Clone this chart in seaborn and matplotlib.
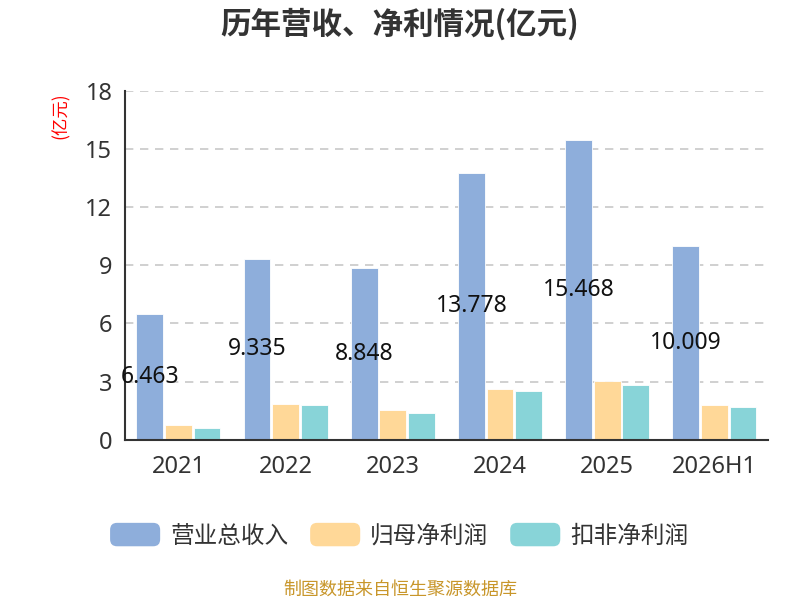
import pandas as pd
import matplotlib
matplotlib.use('Agg')
import matplotlib.pyplot as plt
from matplotlib.patches import FancyBboxPatch, Patch
from matplotlib.legend_handler import HandlerPatch
import seaborn as sns

years = ['2021', '2022', '2023', '2024', '2025', '2026H1']
series = ['营业总收入', '归母净利润', '扣非净利润']
revenue = [6.463, 9.335, 8.848, 13.778, 15.468, 10.009]
net_profit = [0.74, 1.82, 1.56, 2.63, 3.01, 1.79]
net_profit_adj = [0.62, 1.79, 1.39, 2.53, 2.84, 1.67]
colors = ['#8eaedb', '#ffd898', '#88d4d8']

sns.set_style('white')
plt.rcParams['font.family'] = ['Noto Sans', 'Noto Sans CJK SC', 'DejaVu Sans']
plt.rcParams['axes.unicode_minus'] = False
cjk = ['Noto Sans CJK SC', 'DejaVu Sans']

df = pd.DataFrame({
    'year': years * 3,
    'kind': [series[0]] * 6 + [series[1]] * 6 + [series[2]] * 6,
    'value': revenue + net_profit + net_profit_adj,
})

fig = plt.figure(figsize=(8, 6), dpi=100)
ax = fig.add_axes([0.156, 0.267, 0.804, 0.582])
sns.barplot(data=df, x='year', y='value', hue='kind', palette=colors,
            saturation=1, width=0.8, gap=0.06, edgecolor='white',
            linewidth=0.6, ax=ax, legend=False)

# revenue labels sit in the middle of the blue bar
for i, v in enumerate(revenue):
    ax.text(i - 0.8 / 3, v / 2, f'{v:.3f}', ha='center', va='center',
            fontsize=16.5, color='#111111')

ax.set_ylim(0, 18)
ax.set_yticks([0, 3, 6, 9, 12, 15, 18])
ax.set_xlim(-0.5, 5.5)
ax.set_xlabel('')
ax.set_ylabel('')
ax.tick_params(axis='x', which='major', length=0, labelsize=17, colors='#333333', pad=11)
ax.set_xticks([i - 0.5 for i in range(7)], minor=True)
ax.tick_params(axis='x', which='minor', length=6, width=1.5, color='#333333')
ax.tick_params(axis='y', length=6, width=1.5, color='#333333', labelsize=17,
               labelcolor='#333333', pad=3)
for y in [3, 6, 9, 12, 15, 18]:
    ax.axhline(y, color='#c8c8c8', lw=1.2, ls=(0, (5, 4)), zorder=0)
for s in ['top', 'right']:
    ax.spines[s].set_visible(False)
for s in ['left', 'bottom']:
    ax.spines[s].set_color('#333333')
    ax.spines[s].set_linewidth(1.5)

fig.text(0.076, 0.807, '(亿元)', rotation=90, color='red', fontsize=12.5,
         ha='center', va='center', family=cjk)
fig.text(0.5, 0.96, '历年营收、净利情况(亿元)', ha='center', va='center',
         fontsize=22, fontweight='bold', color='#333333', family=cjk)


class RoundHandler(HandlerPatch):
    def create_artists(self, legend, orig_handle, xdescent, ydescent,
                       width, height, fontsize, trans):
        p = FancyBboxPatch((-xdescent, -ydescent), width, height,
                           boxstyle='round,pad=0,rounding_size=5',
                           facecolor=orig_handle.get_facecolor(),
                           edgecolor='none', transform=trans)
        return [p]


handles = [Patch(facecolor=c) for c in colors]
fig.legend(handles, series, loc='center', bbox_to_anchor=(0.499, 0.108),
           ncol=3, frameon=False, prop={'family': cjk, 'size': 17},
           handlelength=2.12, handleheight=1.15, handletextpad=0.42,
           columnspacing=0.93, labelcolor='#333333',
           handler_map={Patch: RoundHandler()})

fig.text(0.5, 0.017, '制图数据来自恒生聚源数据库', ha='center', va='center',
         fontsize=13, color='#c8962a', family=cjk)

fig.savefig('out.png', dpi=100)
